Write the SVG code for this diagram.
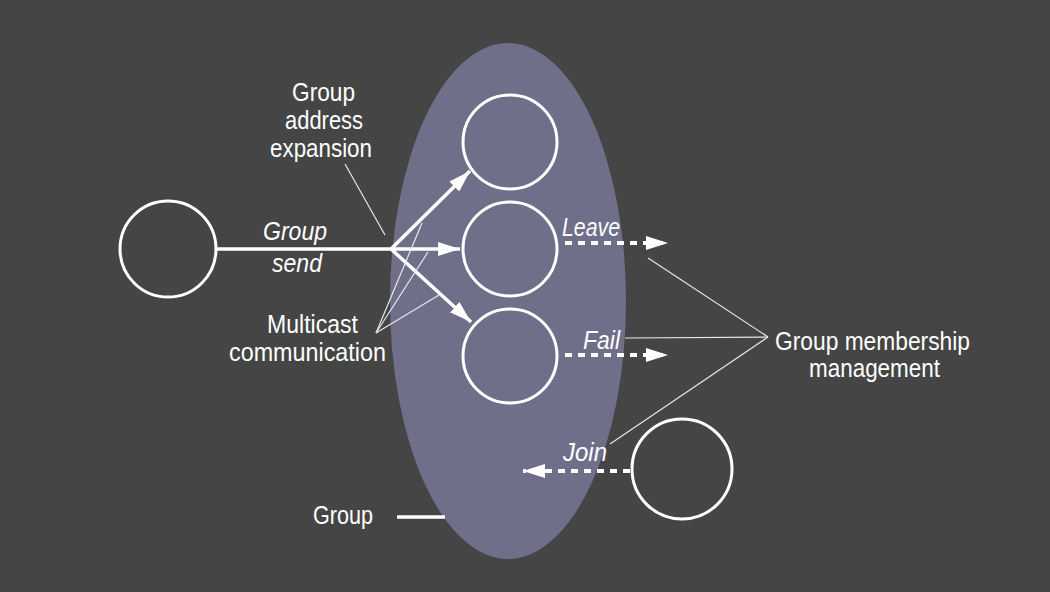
<svg xmlns="http://www.w3.org/2000/svg" width="1050" height="592" viewBox="0 0 1050 592">
<defs>
<style>
.t{font-family:"Liberation Sans",Arial,sans-serif;font-size:26px;fill:#ffffff;text-anchor:middle}
.i{font-style:italic}
.node{fill:none;stroke:#ffffff;stroke-width:3}
.solid{stroke:#ffffff;stroke-width:3.5;fill:none}
.dash{stroke:#ffffff;stroke-width:4;fill:none;stroke-dasharray:7 6}
.thin{stroke:#e8e8e8;stroke-width:1.2;fill:none}
</style>
<marker id="ah" viewBox="0 0 10 10" refX="10" refY="5" markerWidth="22" markerHeight="14" markerUnits="userSpaceOnUse" orient="auto" preserveAspectRatio="none">
<path d="M0,0 L10,5 L0,10 Z" fill="#ffffff"/>
</marker>
</defs>
<rect width="1050" height="592" fill="#454545"/>
<g id="group-ellipse">
<ellipse cx="508" cy="301" rx="118" ry="258" fill="#6f6f8a"/>
</g>
<g id="sender"><circle cx="168" cy="249" r="48" class="node"/></g>
<g id="member-top"><circle cx="510" cy="142" r="47" class="node"/></g>
<g id="member-mid"><circle cx="510" cy="249" r="47" class="node"/></g>
<g id="member-bot"><circle cx="510" cy="356" r="47" class="node"/></g>
<g id="joiner"><circle cx="682" cy="469" r="50" class="node"/></g>
<g id="connectors">
<line x1="217" y1="249" x2="391" y2="249" class="solid"/>
<line x1="391" y1="249" x2="460" y2="249" class="solid" marker-end="url(#ah)"/>
<line x1="391" y1="249" x2="470" y2="171" class="solid" marker-end="url(#ah)"/>
<line x1="391" y1="249" x2="471" y2="322" class="solid" marker-end="url(#ah)"/>
<line x1="565" y1="243" x2="668" y2="243" class="dash" marker-end="url(#ah)"/>
<line x1="565" y1="355" x2="668" y2="355" class="dash" marker-end="url(#ah)"/>
<line x1="630" y1="471" x2="523" y2="471" class="dash" marker-end="url(#ah)"/>
<line x1="397" y1="517" x2="445" y2="517" class="solid"/>
<line x1="345" y1="164" x2="385" y2="235" class="thin"/>
<line x1="376" y1="333" x2="422" y2="223" class="thin"/>
<line x1="376" y1="333" x2="428" y2="252" class="thin"/>
<line x1="376" y1="333" x2="439" y2="295" class="thin"/>
<line x1="768" y1="337" x2="648" y2="258" class="thin"/>
<line x1="768" y1="337" x2="625" y2="338" class="thin"/>
<line x1="768" y1="337" x2="610" y2="444" class="thin"/>
</g>
<g id="labels">
<text class="t" x="323.5" y="101" textLength="63" lengthAdjust="spacingAndGlyphs">Group</text>
<text class="t" x="324" y="129" textLength="78" lengthAdjust="spacingAndGlyphs">address</text>
<text class="t" x="321" y="157" textLength="102" lengthAdjust="spacingAndGlyphs">expansion</text>
<text class="t i" x="295" y="240" textLength="64" lengthAdjust="spacingAndGlyphs">Group</text>
<text class="t i" x="297" y="272" textLength="50" lengthAdjust="spacingAndGlyphs">send</text>
<text class="t" x="312.5" y="333" textLength="91" lengthAdjust="spacingAndGlyphs">Multicast</text>
<text class="t" x="307.5" y="361" textLength="157" lengthAdjust="spacingAndGlyphs">communication</text>
<text class="t i" x="591" y="236" textLength="58" lengthAdjust="spacingAndGlyphs">Leave</text>
<text class="t i" x="601.5" y="349" textLength="37" lengthAdjust="spacingAndGlyphs">Fail</text>
<text class="t i" x="585" y="461" textLength="44" lengthAdjust="spacingAndGlyphs">Join</text>
<text class="t" x="343" y="524" textLength="60" lengthAdjust="spacingAndGlyphs">Group</text>
<text class="t" x="872.5" y="350" textLength="195" lengthAdjust="spacingAndGlyphs">Group membership</text>
<text class="t" x="874.5" y="377" textLength="131" lengthAdjust="spacingAndGlyphs">management</text>
</g>
</svg>
